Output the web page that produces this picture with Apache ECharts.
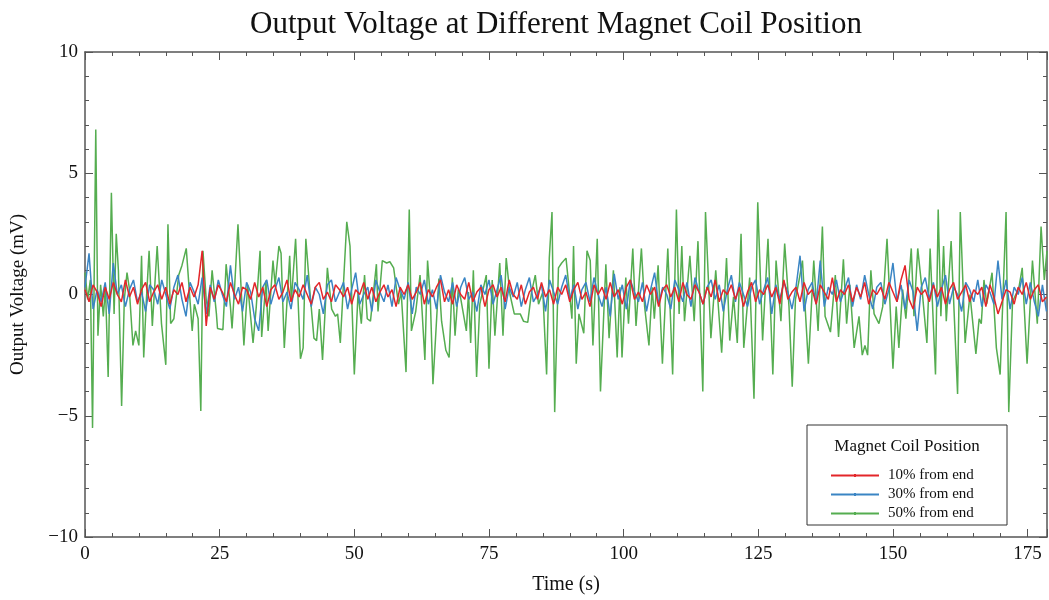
<!DOCTYPE html>
<html>
<head>
<meta charset="utf-8">
<title>Output Voltage at Different Magnet Coil Position</title>
<script src="https://cdn.jsdelivr.net/npm/echarts@6/dist/echarts.min.js"></script>
<style>
  html, body { margin: 0; padding: 0; background: #fff; }
  #chart { width: 1049px; height: 600px; }
</style>
</head>
<body>
<div id="chart"></div>
<script>
// sample step (s) for the 10% and 30% traces
const step = 0.75

// 10% from end (mV)
const red10 = [
  0.2, -0.3, 0.4, 0.1, -0.5, 0.3, -0.2, 0.5, 0.0, -0.3,
  0.6, -0.1, 0.3, -0.4, 0.2, 0.5, -0.3, 0.1, 0.4, -0.2,
  0.3, -0.4, 0.2, 0.0, 0.5, -0.3, 0.3, -0.1, 0.4, 1.8,
  -1.3, 0.3, -0.2, 0.4, 0.1, -0.3, 0.5, 0.0, -0.4, 0.3,
  0.2, -0.2, 0.5, -0.1, 0.3, -0.5, 0.2, 0.4, -0.2, 0.1,
  0.6, -0.3, 0.2, -0.1, 0.4, 0.0, -0.4, 0.3, 0.5, -0.2,
  0.1, -0.3, 0.4, 0.2, -0.1, 0.3, -0.4, 0.2, 0.0, 0.5,
  -0.2, 0.3, -0.3, 0.1, 0.4, -0.1, 0.2, -0.5, 0.3, 0.0,
  0.4, -0.2, 0.1, 0.5, -0.4, 0.2, -0.1, 0.3, 0.6, -0.3,
  0.2, -0.4, 0.4, 0.0, -0.2, 0.5, -0.3, 0.1, 0.3, -0.5,
  0.2, 0.4, -0.1, 0.3, -0.3, 0.6, 0.0, -0.2, 0.4, -0.4,
  0.1, 0.3, -0.2, 0.5, -0.1, 0.2, -0.4, 0.3, 0.0, 0.4,
  -0.3, 0.2, 0.5, -0.2, 0.1, -0.5, 0.4, 0.0, 0.3, -0.2,
  0.5, -0.1, 0.2, -0.4, 0.3, 0.6, -0.2, 0.1, -0.3, 0.4,
  0.0, 0.3, -0.5, 0.2, 0.4, -0.1, 0.3, -0.3, 0.5, 0.0,
  -0.2, 0.4, 0.1, -0.4, 0.3, -0.1, 0.6, -0.3, 0.2, 0.0,
  0.4, -0.2, 0.3, -0.5, 0.1, 0.5, -0.3, 0.2, 0.0, 0.4,
  -0.1, 0.3, -0.4, 0.6, -0.2, 0.1, 0.3, -0.3, 0.5, 0.0,
  0.2, -0.4, 0.4, 0.1, -0.2, 0.7, -0.3, 0.2, 0.0, 0.4,
  -0.3, 0.3, -0.1, 0.5, -0.4, 0.2, 0.0, 0.3, -0.2, 0.5,
  0.1, -0.3, 0.6, 1.2, -0.2, -0.6, 0.3, 0.0, 0.2, -0.3,
  0.4, -0.1, 0.3, -0.4, 0.2, 0.5, -0.2, 0.1, 0.4, -0.3,
  0.2, 0.0, 0.3, -0.5, 0.4, -0.1, -0.8, -0.3, 0.2, 0.1,
  -0.4, 0.3, 0.0, 0.5, -0.2, 0.2, 0.4, -0.3, -0.1
]

// 30% from end (mV)
const blue30 = [
  0.3, 1.7, -0.6, 0.2, -0.3, 0.5, -0.8, 1.3, 0.0, 0.4,
  -0.5, 0.2, 0.6, -0.3, 0.1, -0.7, 0.4, 0.2, -0.4, 0.6,
  0.0, -0.6, 0.3, 0.8, -0.2, -0.9, 0.5, 0.1, -0.4, 0.7,
  -0.8, 0.4, -0.3, 0.6, 0.0, -0.5, 1.2, -0.2, 0.3, -0.7,
  0.5, 0.1, -1.0, -1.5, 0.3, 0.6, -0.4, 0.2, 0.7, -0.3,
  0.1, -0.6, 0.5, 0.2, -0.2, 0.8, -0.5, 0.3, 0.0, -0.8,
  0.4, 0.6, -0.3, 0.1, 0.5, -0.6, 0.2, 0.9, -0.4, 0.0,
  0.3, -0.7, 0.6, 0.1, -0.3, 0.4, -0.5, 0.7, 0.2, -0.2,
  0.5, -0.8, 0.3, 0.0, 0.6, -0.4, 0.2, -0.6, 0.8, 0.1,
  -0.3, 0.5, -0.5, 0.3, 0.7, -0.2, 0.1, -0.7, 0.4, 0.0,
  0.6, -0.4, 0.2, 0.8, -0.6, 0.3, -0.1, 0.5, -0.5, 0.2,
  0.7, -0.3, 0.0, 0.4, -0.7, 0.6, 0.1, -0.4, 0.3, 0.8,
  -0.2, 0.4, -0.6, 0.2, 0.5, -0.3, 0.7, 0.0, -0.5, 0.3,
  -0.9, 0.85, -0.2, 0.4, -0.6, 0.6, 0.1, -0.3, 0.5, -0.7,
  0.2, 0.9, -0.4, 0.3, 0.0, -0.6, 0.6, 0.2, -0.3, 0.5,
  -0.5, 0.7, 0.1, -0.4, 0.3, 0.6, -0.2, 0.4, -0.7, 0.2,
  0.8, -0.3, 0.5, 0.0, -0.5, 0.3, 0.6, -0.4, 0.2, 0.7,
  -0.8, 0.4, -0.2, 0.5, 0.1, -0.6, 0.3, 1.6, -0.7, 0.2,
  0.5, -0.4, 1.4, -0.5, 0.3, 0.0, 0.6, -0.3, 0.2, 0.7,
  -0.5, 0.4, -0.2, 0.8, 0.0, -0.6, 0.3, 0.5, -0.4, 0.2,
  1.3, -0.3, 0.4, -0.6, 0.6, 0.1, -1.5, 0.3, 0.7, -0.2,
  0.5, -0.5, 0.2, 0.8, -0.4, 0.3, 0.0, -0.7, 0.5, 0.2,
  -0.3, 0.6, -0.5, 0.4, 0.1, -0.4, 1.4, -0.2, 0.6, -0.6,
  0.3, 0.0, 0.7, -0.4, 0.5, -0.3, -0.9, 0.4, -0.7
]

// 50% from end (mV), [time s, voltage]
const green50 = [
  [0, 0.9], [0.5, -0.2], [1.0, 0.6], [1.4, -5.5], [2.0, 6.8], [2.4, -1.7], [2.9, 0.4], [3.4, -0.9],
  [3.8, 0.3], [4.3, -3.4], [4.9, 4.2], [5.4, -0.8], [5.8, 2.5], [6.2, 1.0], [6.8, -4.6], [7.3, -0.2],
  [7.8, 0.9], [8.2, 0.3], [8.9, -2.1], [9.4, -1.5], [10.0, -2.1], [10.5, 1.6], [10.9, -2.6], [11.4, -0.2],
  [11.9, 1.8], [12.5, -1.3], [13.4, 2.0], [14.2, -1.2], [15.0, -2.9], [15.4, 2.9], [15.9, -1.2], [16.5, -1.0],
  [17.4, 0.8], [18.0, 1.2], [18.8, 1.9], [19.9, -1.5], [20.3, -0.4], [21.0, -1.0], [21.5, -4.8], [21.9, 1.8],
  [22.5, -0.2], [23.0, -0.9], [23.6, 1.0], [24.4, -0.8], [24.6, -1.4], [25.6, -1.45], [26.0, 0.3], [26.2, 1.25],
  [27.0, -0.5], [27.3, -1.4], [27.8, 0.4], [28.4, 2.9], [29.5, -2.1], [30.2, 0.4], [31.2, -2.0], [31.8, -0.5],
  [32.5, 1.8], [32.8, -1.75], [33.6, 0.57], [34.0, -1.5], [34.9, 1.4], [35.3, 0.4], [36.0, 2.0], [36.4, 1.7],
  [37.0, -2.2], [38.0, 1.6], [38.3, -0.3], [39.1, 2.3], [40.0, -2.65], [40.5, -2.2], [41.0, 2.3], [41.8, 0.0],
  [42.5, -1.8], [43.0, -1.9], [43.5, -0.6], [44.1, -2.7], [45.0, 1.1], [45.8, -0.6], [46.5, -0.9], [46.9, -0.8],
  [47.4, -2.0], [48.6, 3.0], [49.2, 2.0], [50.0, -3.3], [50.7, 0.1], [51.3, -1.2], [51.9, 0.8], [52.4, -1.0],
  [53.0, -1.1], [54.1, 1.25], [54.4, -0.7], [55.2, 1.4], [56.0, 1.3], [56.6, 1.35], [57.3, 1.1], [58.2, -0.4],
  [58.7, 0.1], [59.6, -3.2], [60.2, 3.5], [60.6, -1.5], [61.4, -0.7], [62.2, 0.8], [63.1, -2.7], [63.6, 1.4],
  [64.1, -0.1], [64.6, -3.7], [65.7, 0.66], [66.2, -1.1], [67.0, -2.3], [67.6, -2.6], [68.2, 0.7], [68.7, -1.7],
  [69.3, 0.2], [69.7, -0.1], [70.8, -1.5], [71.2, 0.1], [71.6, -2.0], [72.1, 1.0], [72.7, -3.4], [73.3, -0.4],
  [74.5, 0.8], [75.0, -3.06], [75.6, 0.6], [76.1, -1.7], [77.0, 1.3], [77.6, -1.7], [78.2, 1.5], [78.9, 0.0],
  [79.7, -0.8], [80.8, -0.8], [81.4, -1.1], [82.2, -1.15], [82.9, 0.1], [83.6, 0.8], [84.2, -0.4], [85.0, 0.1],
  [85.7, -3.3], [86.2, 1.5], [86.7, 3.4], [87.2, -4.85], [87.9, 1.1], [88.5, 1.3], [89.3, 1.5], [89.8, 0.4],
  [90.4, -1.0], [90.7, 2.0], [91.2, -2.85], [91.7, -0.8], [92.6, -1.6], [93.2, 1.8], [93.8, 1.4], [94.3, -2.1],
  [95.1, 2.3], [95.7, -4.0], [96.7, 1.25], [97.3, -1.8], [98.1, 1.0], [98.8, -2.6], [99.3, 0.3], [99.7, -2.6],
  [100.4, 0.7], [100.9, -1.2], [101.7, 1.9], [102.3, -1.3], [103.3, 1.9], [103.9, -0.5], [104.7, -2.1], [105.3, 0.3],
  [105.7, -1.0], [106.4, 1.2], [107.2, -2.85], [108.2, 1.9], [109.1, -3.3], [109.8, 3.5], [110.3, -0.8], [110.8, 2.0],
  [111.3, -1.1], [112.3, 1.6], [113.1, -1.1], [113.8, 2.2], [114.7, -4.0], [115.2, 3.4], [116.2, -1.8], [117.1, 1.0],
  [118.2, -2.4], [119.1, 1.5], [119.7, -1.9], [120.4, -0.1], [121.1, -2.0], [121.8, 2.5], [122.3, -2.2], [123.4, 0.7],
  [124.2, -4.3], [124.9, 3.8], [125.8, -1.9], [126.8, 2.3], [127.7, -3.3], [128.3, 1.4], [129.2, -1.1], [129.9, 2.1],
  [130.7, -0.5], [131.3, -3.8], [131.9, -0.2], [132.5, 0.5], [133.2, 1.4], [134.3, -2.85], [135.3, 1.4], [136.1, -1.5],
  [136.9, 2.8], [137.4, -0.9], [138.4, -1.55], [139.3, 0.8], [139.9, -1.75], [140.8, 1.45], [141.4, -1.2], [142.0, 0.4],
  [142.8, -2.2], [143.7, -0.9], [144.3, -2.5], [144.8, -2.1], [145.3, -2.5], [145.9, 1.0], [146.5, -0.8], [147.4, -1.2],
  [148.1, -0.5], [148.9, 2.3], [150.0, -3.06], [150.6, -0.5], [151.1, -2.2], [151.8, 0.2], [152.4, -1.0], [153.4, 1.9],
  [153.9, -0.9], [154.6, 1.9], [155.4, 0.2], [156.3, -2.0], [156.9, 1.9], [157.9, -3.3], [158.4, 3.5], [158.9, -0.9],
  [159.4, 2.0], [159.9, -1.1], [160.8, 2.2], [162.0, -4.1], [162.5, 3.4], [163.4, -2.0], [164.3, 0.0], [165.4, -2.45],
  [166.0, -1.0], [166.4, -1.2], [166.9, 0.6], [167.4, -0.4], [168.4, 0.9], [169.2, -2.2], [169.9, -3.3], [171.0, 3.4],
  [171.5, -4.85], [172.2, -0.3], [173.4, 0.3], [174.0, 1.1], [174.9, -2.85], [175.9, 1.4], [176.8, -1.2], [177.5, 2.8],
  [178.1, 0.6], [178.6, 1.8]
]

const legendNames = ['10% from end', '30% from end', '50% from end']
const colors = ['#e3262a', '#3a85c4', '#55ad50']

const serif = '"Liberation Serif", "DejaVu Serif", serif'

function withTime(list) {
  return list.map((v, i) => [i * step, v])
}

const axisLine = { show: true, onZero: false, lineStyle: { color: '#555', width: 1.5 }}
const tickIn = { show: true, inside: true, length: 8, lineStyle: { color: '#555', width: 1 }}
const minorIn = { show: true, splitNumber: 5, length: 4, lineStyle: { color: '#555', width: 1 }}

const chart = echarts.init(document.getElementById('chart'), null, { renderer: 'canvas' })

const option = {
  animation: false,
  backgroundColor: '#fff',
  textStyle: { fontFamily: serif },
  title: {
    text: 'Output Voltage at Different Magnet Coil Position',
    left: 551,
    top: 4,
    textAlign: 'center',
    textStyle: { fontFamily: serif, fontSize: 31, fontWeight: 'normal', color: '#111' }
  },
  grid: {
    left: 85,
    right: 2,
    top: 52,
    bottom: 61,
    containLabel: false
  },
  xAxis: [
    {
      type: 'value',
      min: 0,
      max: 178.6,
      interval: 25,
      name: 'Time (s)',
      nameLocation: 'middle',
      nameGap: 38,
      nameTextStyle: { fontFamily: serif, fontSize: 20, color: '#111' },
      axisLine: axisLine,
      axisTick: tickIn,
      minorTick: minorIn,
      splitLine: { show: false },
      axisLabel: { fontFamily: serif, fontSize: 19, color: '#111', margin: 8, showMaxLabel: false }
    },
    {
      type: 'value',
      position: 'top',
      min: 0,
      max: 178.6,
      interval: 25,
      axisLine: axisLine,
      axisTick: tickIn,
      minorTick: minorIn,
      splitLine: { show: false },
      axisLabel: { show: false }
    }
  ],
  yAxis: [
    {
      type: 'value',
      min: -10,
      max: 10,
      interval: 5,
      name: 'Output Voltage (mV)',
      nameLocation: 'middle',
      nameGap: 57,
      nameTextStyle: { fontFamily: serif, fontSize: 19, color: '#111' },
      axisLine: axisLine,
      axisTick: tickIn,
      minorTick: minorIn,
      splitLine: { show: false },
      axisLabel: {
        fontFamily: serif,
        fontSize: 19,
        color: '#111',
        margin: 7,
        formatter: v => (v < 0 ? '\u2212' + Math.abs(v) : String(v))
      }
    },
    {
      type: 'value',
      position: 'right',
      min: -10,
      max: 10,
      interval: 5,
      axisLine: axisLine,
      axisTick: tickIn,
      minorTick: minorIn,
      splitLine: { show: false },
      axisLabel: { show: false }
    }
  ],
  legend: {
    z: 20,
    orient: 'vertical',
    left: 826,
    top: 463,
    itemWidth: 48,
    itemHeight: 10,
    itemGap: 4,
    icon: 'path://M0,4 L48,4 L48,6 L0,6 Z M23,3.5 L25,3.5 L25,6.5 L23,6.5 Z',
    textStyle: { fontFamily: serif, fontSize: 15, color: '#111', padding: [0, 0, 0, 4] },
    data: legendNames.map((n, i) => ({ name: n, itemStyle: { color: colors[i] }}))
  },
  graphic: [
    {
      type: 'rect',
      z: 10,
      shape: { x: 807, y: 425, width: 200, height: 100 },
      style: { fill: '#fff', stroke: '#333', lineWidth: 1 }
    },
    {
      type: 'text',
      z: 11,
      x: 907,
      y: 438,
      style: {
        text: 'Magnet Coil Position',
        textAlign: 'center',
        font: '17px ' + serif,
        fill: '#111'
      }
    }
  ],
  series: [
    {
      type: 'line',
      name: legendNames[2],
      data: green50,
      showSymbol: false,
      symbol: 'none',
      z: 2,
      lineStyle: { color: colors[2], width: 1.5 },
      itemStyle: { color: colors[2] }
    },
    {
      type: 'line',
      name: legendNames[1],
      data: withTime(blue30),
      showSymbol: false,
      symbol: 'none',
      z: 3,
      lineStyle: { color: colors[1], width: 1.5 },
      itemStyle: { color: colors[1] }
    },
    {
      type: 'line',
      name: legendNames[0],
      data: withTime(red10),
      showSymbol: false,
      symbol: 'none',
      z: 4,
      lineStyle: { color: colors[0], width: 1.5 },
      itemStyle: { color: colors[0] }
    }
  ]
}

chart.setOption(option)
</script>
</body>
</html>
